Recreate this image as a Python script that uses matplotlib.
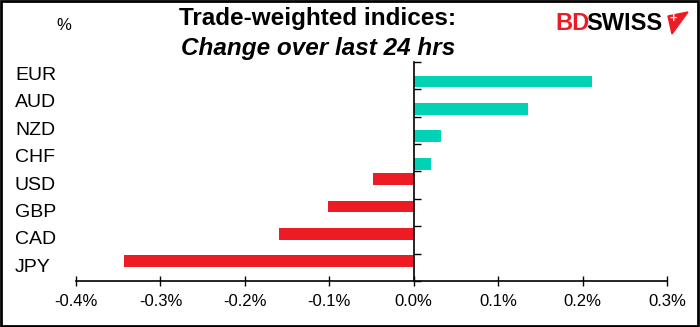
import matplotlib.pyplot as plt
from matplotlib.patches import Rectangle, Polygon
from matplotlib.transforms import blended_transform_factory
import numpy as np

plt.rcParams['font.family'] = ['Liberation Sans', 'DejaVu Sans']

# ================= DATA =================
currencies = ['EUR', 'AUD', 'NZD', 'CHF', 'USD', 'GBP', 'CAD', 'JPY']
change = [0.211, 0.135, 0.032, 0.021, -0.048, -0.101, -0.160, -0.343]
xticks = [-0.4, -0.3, -0.2, -0.1, 0.0, 0.1, 0.2, 0.3]

TEAL = '#00D2B6'
RED = '#ED1C24'

# ================= FIGURE =================
fig = plt.figure(figsize=(7, 3.27), dpi=100)
ax = fig.add_axes([0.1086, 0.1407, 0.8443, 0.6703])

pos = np.arange(len(currencies))
vals = np.array(change)
up = np.where(vals > 0, vals, 0)
down = np.where(vals < 0, vals, 0)

# two series, like a clustered bar: gains sit low in each slot, losses high
ax.barh(pos + 0.22, up, height=0.43, color=TEAL)
ax.barh(pos - 0.22, down, height=0.43, color=RED)

ax.set_xlim(-0.4, 0.3)
ax.set_ylim(len(currencies) - 0.5, -0.5)

ax.set_xticks(xticks)
ax.set_xticklabels([f'{v:.1f}%' for v in xticks], fontsize=12)
ax.tick_params(axis='x', direction='inout', length=7, width=1, pad=6)

# category axis sits on zero
for s in ['top', 'right']:
    ax.spines[s].set_visible(False)
ax.spines['left'].set_position(('data', 0))
ax.spines['left'].set_linewidth(1.2)
ax.spines['bottom'].set_linewidth(1.2)
ax.set_yticks(np.arange(len(currencies) + 1) - 0.5)
ax.set_yticklabels([])
ax.tick_params(axis='y', direction='in', length=5, width=1)

# currency labels at the left edge
tr = blended_transform_factory(fig.transFigure, ax.transData)
for i, c in enumerate(currencies):
    ax.text(15 / 700, i, c, transform=tr, ha='left', va='center', fontsize=14)

# ================= TEXT =================
fig.text(64 / 700, 1 - 26 / 327, '%', ha='center', va='center', fontsize=12)
fig.text(318 / 700, 1 - 19 / 327, 'Trade-weighted indices:', ha='center',
         va='center', fontsize=17.5, fontweight='bold')
fig.text(318 / 700, 1 - 48 / 327, 'Change over last 24 hrs', ha='center',
         va='center', fontsize=17.5, fontweight='bold', style='italic')

# logo
fig.text(555 / 700, 1 - 24 / 327, 'BD', ha='left', va='center', fontsize=17,
         fontweight='bold', color=RED)
fig.text(586 / 700, 1 - 24 / 327, 'SWISS', ha='left', va='center', fontsize=17,
         fontweight='bold', color='black')
flag = [(668, 16), (688, 12), (672, 34)]
fig.patches.append(Polygon([(x / 700, 1 - y / 327) for x, y in flag], closed=True,
                           color=RED, transform=fig.transFigure))
fig.text(673 / 700, 1 - 19 / 327, '+', ha='center', va='center', fontsize=9,
         fontweight='bold', color='white')

# outer frame
fig.patches.append(Rectangle((0.0015, 0.003), 0.996, 0.993, fill=False,
                             edgecolor='black', linewidth=2,
                             transform=fig.transFigure))

fig.savefig('out.png', dpi=100)
